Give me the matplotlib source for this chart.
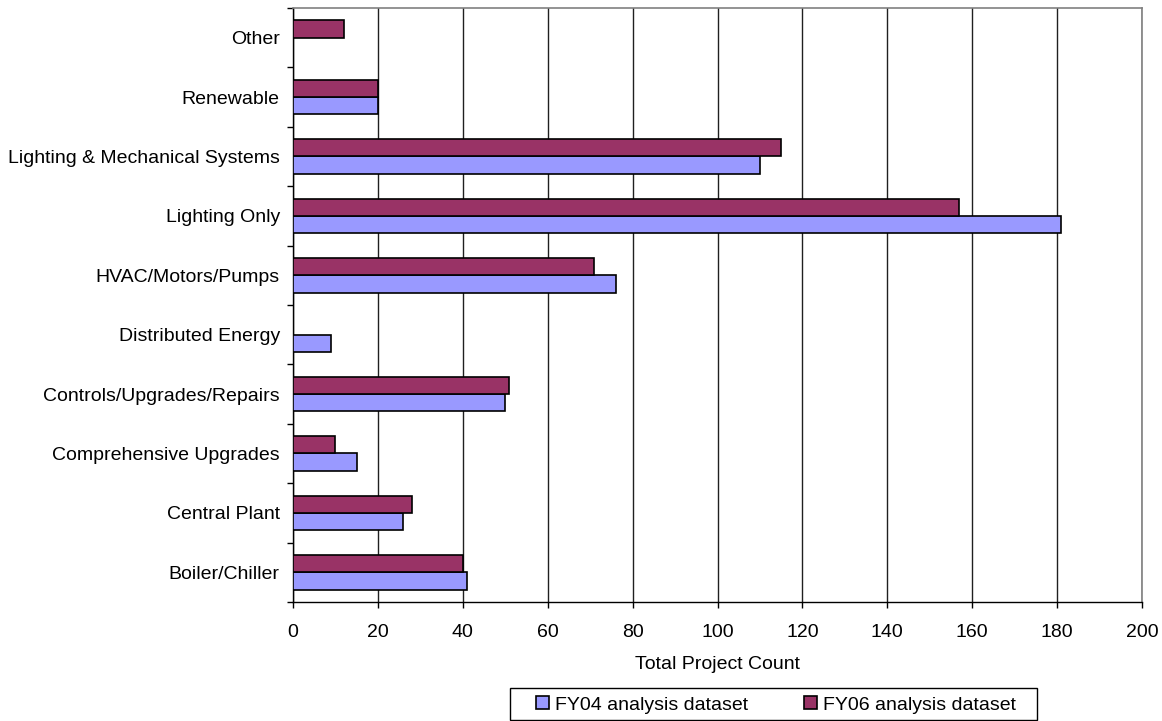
import matplotlib
matplotlib.use("Agg")
import matplotlib.pyplot as plt
from matplotlib.patches import Rectangle
import numpy as np

categories = [
    "Boiler/Chiller",
    "Central Plant",
    "Comprehensive Upgrades",
    "Controls/Upgrades/Repairs",
    "Distributed Energy",
    "HVAC/Motors/Pumps",
    "Lighting Only",
    "Lighting & Mechanical Systems",
    "Renewable",
    "Other",
]
fy04 = [41, 26, 15, 50, 9, 76, 181, 110, 20, 0]
fy06 = [40, 28, 10, 51, 0, 71, 157, 115, 20, 12]
series_names = ["FY04 analysis dataset", "FY06 analysis dataset"]
x_ticks = list(range(0, 201, 20))

plt.rcParams["font.family"] = ["Liberation Sans", "DejaVu Sans"]
plt.rcParams["font.size"] = 14

W, H = 1162, 721
fig = plt.figure(figsize=(W / 100, H / 100), dpi=100)
ax = fig.add_axes([293 / W, 1 - 602 / H, (1142 - 293) / W, (602 - 8) / H])

y = np.arange(len(categories))
h = 0.29
ax.barh(y - h / 2, fy04, height=h, color="#9999FF", edgecolor="black",
        linewidth=1.2, label=series_names[0], zorder=3)
ax.barh(y + h / 2, fy06, height=h, color="#993366", edgecolor="black",
        linewidth=1.2, label=series_names[1], zorder=3)

ax.set_xlim(0, 200)
ax.set_ylim(-0.5, len(categories) - 0.5)
ax.set_xticks(x_ticks)
ax.set_yticks(y)
ax.set_yticklabels(categories)
ax.set_yticks(np.arange(-0.5, len(categories), 1.0), minor=True)
ax.tick_params(axis="y", which="major", length=0, pad=9.5)
ax.tick_params(axis="y", which="minor", length=4.5, width=1, direction="out")
ax.tick_params(axis="x", length=4.5, width=1, direction="out", pad=11)

ax.grid(axis="x", color="#202020", linewidth=1, zorder=0)
for side in ["top", "right"]:
    ax.spines[side].set_color("#808080")
    ax.spines[side].set_linewidth(1.2)
for side in ["left", "bottom"]:
    ax.spines[side].set_color("black")
    ax.spines[side].set_linewidth(1)

ax.set_xlabel("Total Project Count", labelpad=11)

# legend box drawn as a figure-level frame, entries centred inside it
fig.patches.append(Rectangle((510 / W, 1 - 719.5 / H), (1037 - 510) / W, (719.5 - 688) / H,
                             transform=fig.transFigure, facecolor="white",
                             edgecolor="black", linewidth=1, zorder=0))
leg = fig.legend(loc="center", bbox_to_anchor=(776 / W, 1 - 705 / H),
                 ncol=2, frameon=False,
                 handlelength=0.65, handleheight=0.65, handletextpad=0.3,
                 columnspacing=2.9, borderpad=0, borderaxespad=0)

fig.savefig("out.png", dpi=100)
